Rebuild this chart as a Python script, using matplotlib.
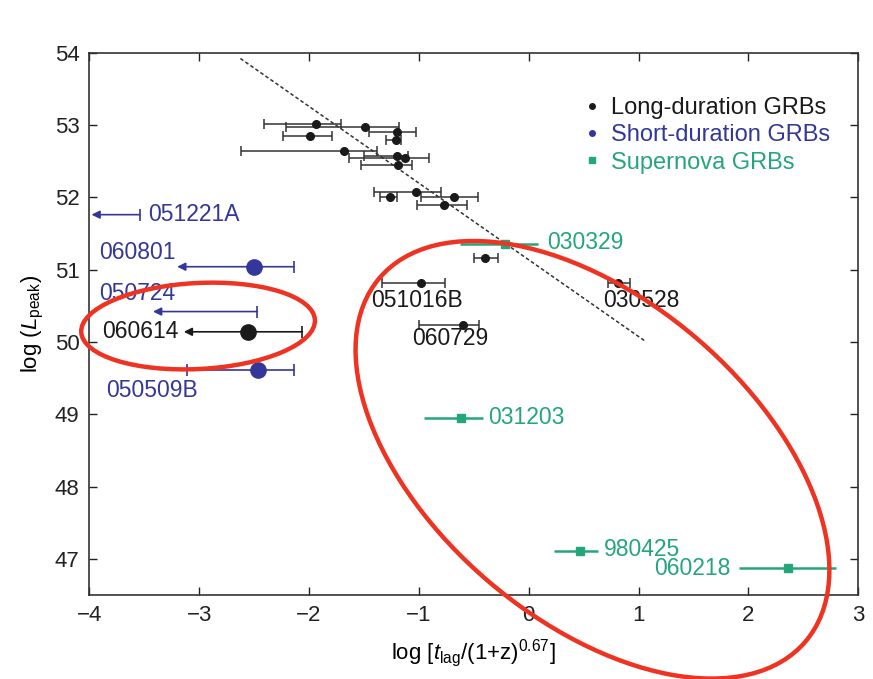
import numpy as np
import matplotlib
matplotlib.use('Agg')
import matplotlib.pyplot as plt
from matplotlib.lines import Line2D
from matplotlib.patches import Ellipse
from matplotlib.transforms import IdentityTransform

plt.rcParams['font.family'] = ['Liberation Sans', 'DejaVu Sans']
plt.rcParams['mathtext.fontset'] = 'custom'
plt.rcParams['mathtext.rm'] = 'Liberation Sans'
plt.rcParams['mathtext.it'] = 'Liberation Sans:italic'

BLACK = '#1a1a1a'
BLUE = '#34379a'
GREEN = '#25a57c'
RED = '#ee3322'

# long-duration GRBs (unlabelled cloud + labelled ones)
long_x = [-1.94, -1.49, -1.20, -1.99, -1.21, -1.68, -1.20, -1.13, -1.19, -1.03, -1.26, -0.68, -0.77, -0.40]
long_y = [53.02, 52.97, 52.90, 52.85, 52.79, 52.64, 52.57, 52.54, 52.44, 52.07, 52.00, 52.00, 51.90, 51.16]
long_lo = [-2.41, -2.21, -1.45, -2.24, -1.30, -2.62, -1.50, -1.64, -1.53, -1.41, -1.35, -0.98, -1.02, -0.50]
long_hi = [-1.71, -1.18, -1.03, -1.79, -1.16, -1.38, -1.10, -0.91, -1.06, -0.80, -1.20, -0.46, -0.56, -0.28]

named_long = ['051016B', '060729', '030528']
named_long_x = [-0.98, -0.60, 0.81]
named_long_y = [50.82, 50.24, 50.81]
named_long_lo = [-1.34, -1.00, 0.72]
named_long_hi = [-0.76, -0.45, 0.92]

# 060614: long burst with upper limit on the lag
lim_long_name = '060614'
lim_long_x, lim_long_y = -2.56, 50.14
lim_long_cap, lim_long_tip = -2.06, -3.14

# short-duration GRBs
short_names = ['051221A', '060801', '050724', '050509B']
short_x = [np.nan, -2.50, np.nan, -2.46]
short_y = [51.76, 51.04, 50.42, 49.61]
short_cap = [-3.54, -2.14, -2.47, -2.14]
short_tip = [-3.98, -3.20, -3.42, np.nan]
short_lo = [np.nan, np.nan, np.nan, -3.11]

# supernova GRBs
sn_names = ['030329', '031203', '980425', '060218']
sn_x = [-0.22, -0.62, 0.47, 2.36]
sn_y = [51.36, 48.95, 47.11, 46.88]
sn_lo = [-0.63, -0.95, 0.23, 1.91]
sn_hi = [0.08, -0.42, 0.63, 2.80]

# fitted lag-luminosity line
fit_x = [-2.625, 1.07]
fit_y = [53.92, 50.00]

fig = plt.figure(figsize=(8.73, 6.79), dpi=100)
ax = fig.add_axes([0.1023, 0.1237, 0.8809, 0.7987])
ax.set_xlim(-4, 3)
ax.set_ylim(46.5, 54)

ax.plot(fit_x, fit_y, ls=(0, (2.4, 1.6)), color='#333333', lw=1.1, zorder=1)

long_x = np.array(long_x)
ax.errorbar(long_x, long_y, xerr=[long_x - np.array(long_lo), np.array(long_hi) - long_x],
            fmt='o', ms=5.5, color=BLACK, ecolor='#333333', elinewidth=1.1, capsize=3.5, capthick=1.1)
nx = np.array(named_long_x)
ax.errorbar(nx, named_long_y, xerr=[nx - np.array(named_long_lo), np.array(named_long_hi) - nx],
            fmt='o', ms=5.5, color=BLACK, ecolor='#333333', elinewidth=1.1, capsize=3.5, capthick=1.1)

def upper_limit(y, cap, tip, c):
	# horizontal bar from the cap to an arrow head on the left
	ax.annotate('', xy=(tip, y), xytext=(cap, y),
	            arrowprops=dict(arrowstyle='-|>', color=c, lw=1.2, mutation_scale=12, shrinkA=0, shrinkB=0))
	ax.plot(cap, y, marker='|', ms=9, mew=1.2, color=c)

upper_limit(lim_long_y, lim_long_cap, lim_long_tip, BLACK)
ax.plot(lim_long_x, lim_long_y, 'o', ms=11, color=BLACK, zorder=4)

for i in range(len(short_names)):
	if np.isnan(short_tip[i]):
		ax.errorbar(short_x[i], short_y[i], xerr=[[short_x[i] - short_lo[i]], [short_cap[i] - short_x[i]]],
		            fmt='none', ecolor=BLUE, elinewidth=1.2, capsize=4.5, capthick=1.2)
	else:
		upper_limit(short_y[i], short_cap[i], short_tip[i], BLUE)
	if not np.isnan(short_x[i]):
		ax.plot(short_x[i], short_y[i], 'o', ms=11, color=BLUE, zorder=4)

sx = np.array(sn_x)
ax.errorbar(sx, sn_y, xerr=[sx - np.array(sn_lo), np.array(sn_hi) - sx],
            fmt='s', ms=6, color=GREEN, ecolor=GREEN, elinewidth=1.8, capsize=0)

fs = 16.5
lab = dict(fontsize=fs, textcoords='offset points', va='center')
ax.annotate('051016B', (named_long_x[0], named_long_y[0]), xytext=(-3, -13), ha='center', color=BLACK, **lab)
ax.annotate('060729', (named_long_x[1], named_long_y[1]), xytext=(-9, -10), ha='center', color=BLACK, **lab)
ax.annotate('030528', (named_long_x[2], named_long_y[2]), xytext=(17, -12), ha='center', color=BLACK, **lab)
ax.annotate(lim_long_name, (lim_long_tip, lim_long_y), xytext=(-4, 0), ha='right', color=BLACK, **lab)

ax.annotate(short_names[0], (short_cap[0], short_y[0]), xytext=(6, 0), ha='left', color=BLUE, **lab)
ax.annotate(short_names[1], (short_tip[1], short_y[1]), xytext=(-1, 10), ha='right', color=BLUE, **lab)
ax.annotate(short_names[2], (short_tip[2], short_y[2]), xytext=(16, 13), ha='right', color=BLUE, **lab)
ax.annotate(short_names[3], (short_lo[3], short_y[3]), xytext=(8, -15), ha='right', color=BLUE, **lab)

ax.annotate(sn_names[0], (sn_hi[0], sn_y[0]), xytext=(7, 1), ha='left', color=GREEN, **lab)
ax.annotate(sn_names[1], (sn_hi[1], sn_y[1]), xytext=(4, 0), ha='left', color=GREEN, **lab)
ax.annotate(sn_names[2], (sn_hi[2], sn_y[2]), xytext=(4, 1), ha='left', color=GREEN, **lab)
ax.annotate(sn_names[3], (sn_lo[3], sn_y[3]), xytext=(-6, -1), ha='right', color=GREEN, **lab)

handles = [Line2D([], [], ls='none', marker='o', ms=4, color=BLACK),
           Line2D([], [], ls='none', marker='o', ms=4, color=BLUE),
           Line2D([], [], ls='none', marker='s', ms=5, color=GREEN)]
ax.legend(handles, ['Long-duration GRBs', 'Short-duration GRBs', 'Supernova GRBs'],
          loc='upper right', bbox_to_anchor=(0.963, 0.918), frameon=False, fontsize=17,
          labelcolor=[BLACK, BLUE, GREEN], handlelength=0.5, handletextpad=0.55,
          labelspacing=0.22, borderpad=0, borderaxespad=0)

ax.set_xticks(np.arange(-4, 4, 1))
ax.set_yticks(np.arange(47, 55, 1))
ax.tick_params(direction='in', top=True, right=True, length=6, width=1, labelsize=16, pad=7, colors='#222222')
for s in ax.spines.values():
	s.set_linewidth(1.2)
	s.set_color('#333333')
ax.set_xlabel(r'log [$t_{\rm lag}$/(1+z)$^{0.67}$]', fontsize=16, labelpad=8)
ax.set_ylabel(r'log ($L_{\rm peak}$)', fontsize=16, labelpad=6)

# red highlight ellipses (sizes in pixels, centres in data)
fig.canvas.draw()
for (cx, cy, w, h, ang) in [(-3.01, 50.22, 234, 86, 3), (0.58, 48.37, 560, 320, -40.5)]:
	px, py = ax.transData.transform((cx, cy))
	fig.add_artist(Ellipse((px, py), w, h, angle=ang, transform=IdentityTransform(),
	                       fill=False, ec=RED, lw=3.2, clip_on=False, zorder=10))

fig.savefig('out.png', dpi=100)
